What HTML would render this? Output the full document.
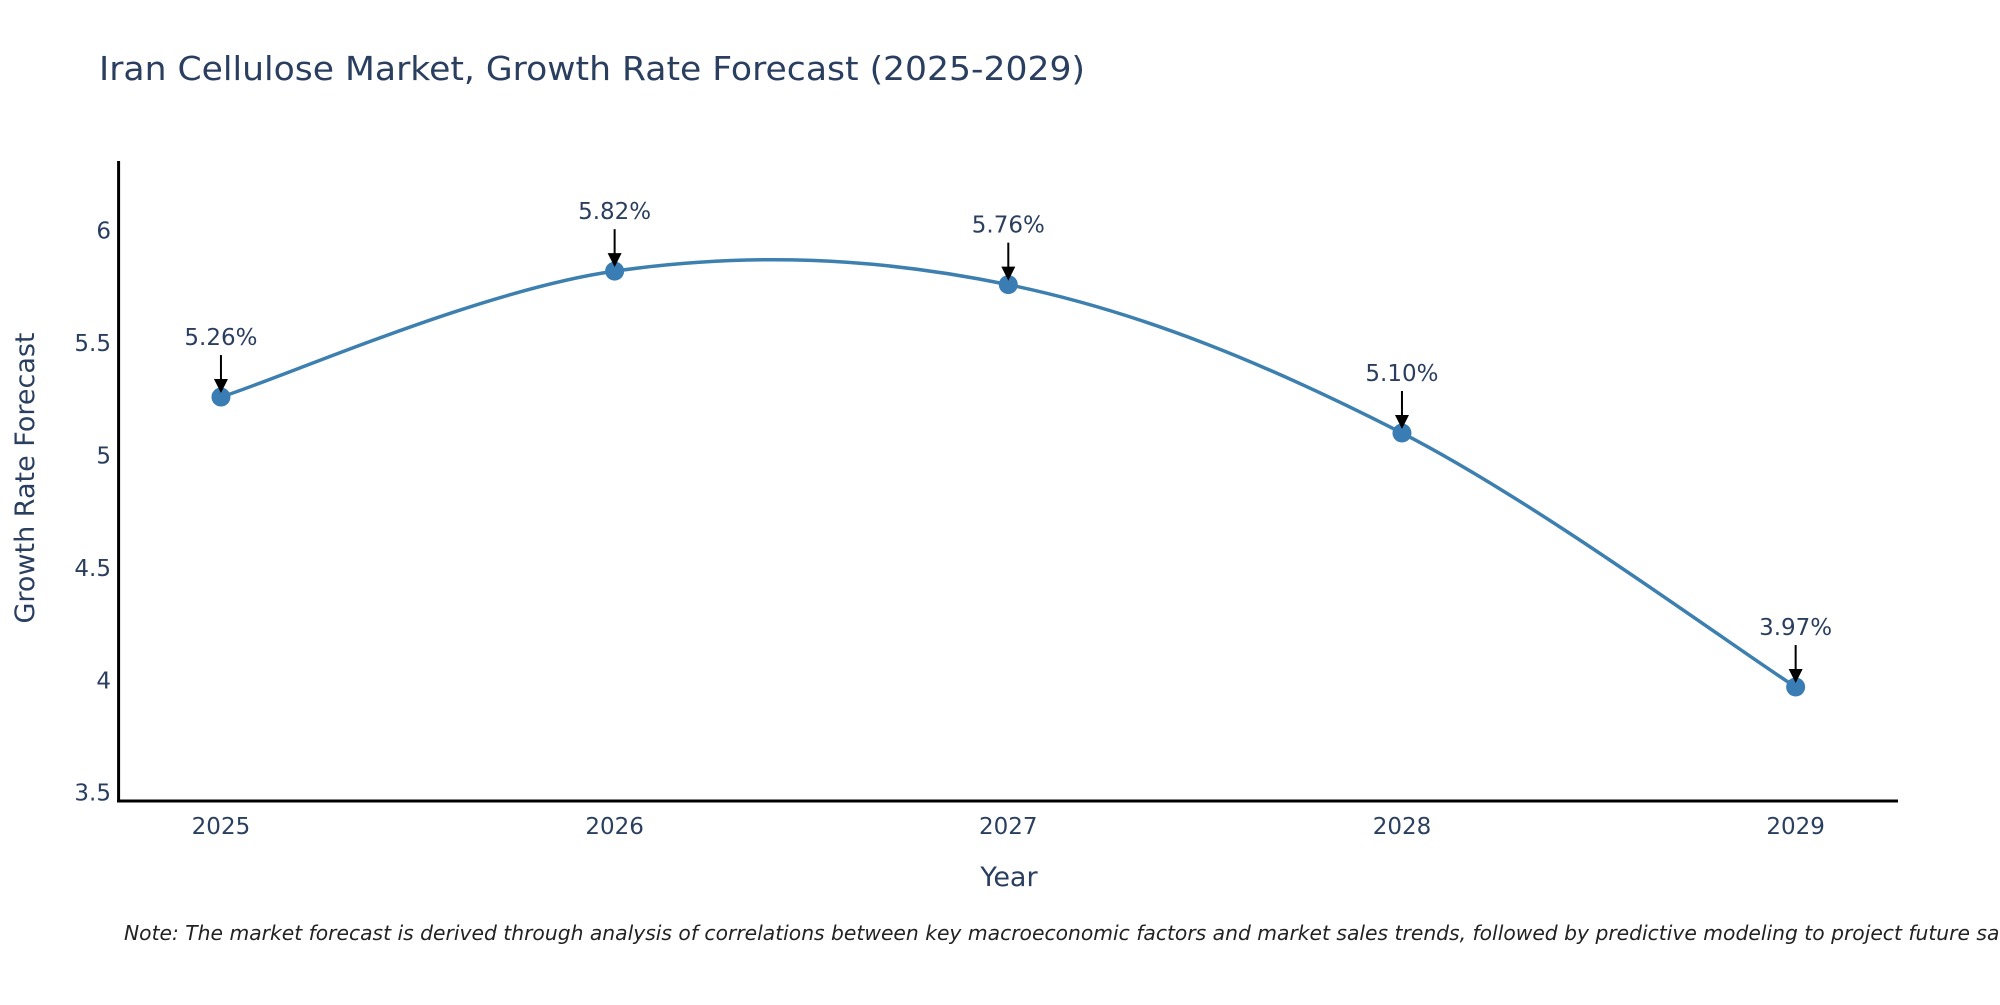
<!DOCTYPE html>
<html><head><meta charset="utf-8"><style>
html,body{margin:0;padding:0;background:#fff;}
svg text{font-family:"DejaVu Sans","Liberation Sans",sans-serif;}
</style></head><body>
<svg id="chart" width="2000" height="1000" xmlns="http://www.w3.org/2000/svg">
<text x="99" y="80" font-size="33" fill="#2a3f5f" textLength="986" lengthAdjust="spacingAndGlyphs">Iran Cellulose Market, Growth Rate Forecast (2025-2029)</text>
<g id="plot"></g>
<text x="1009" y="886" font-size="27" fill="#2a3f5f" text-anchor="middle">Year</text>
<text transform="translate(34,478) rotate(-90)" font-size="27" fill="#2a3f5f" text-anchor="middle">Growth Rate Forecast</text>
<text x="124" y="940" font-size="20.3" font-style="italic" fill="#222">Note: The market forecast is derived through analysis of correlations between key macroeconomic factors and market sales trends, followed by predictive modeling to project future sales.</text>
</svg>
<script>
const years = [2025, 2026, 2027, 2028, 2029];
const values = [5.26, 5.82, 5.76, 5.10, 3.97];
const labels = ["5.26%", "5.82%", "5.76%", "5.10%", "3.97%"];
const yTicks = [3.5, 4, 4.5, 5, 5.5, 6];
const yTickLabels = ["3.5", "4", "4.5", "5", "5.5", "6"];

const L=118.6,R=1898,T=161,B=801;
const xMin=2024.74,xMax=2029.26,yMin=3.463,yMax=6.31;
const xs=v=>L+(v-xMin)/(xMax-xMin)*(R-L);
const ys=v=>B-(v-yMin)/(yMax-yMin)*(B-T);
const NS="http://www.w3.org/2000/svg";
const g=document.getElementById('plot');
function mk(tag,attrs){const e=document.createElementNS(NS,tag);for(const k in attrs)e.setAttribute(k,attrs[k]);g.appendChild(e);return e;}

yTicks.forEach((t,i)=>{
  const e=mk('text',{x:111,y:ys(t)+8,'font-size':23,fill:'#2a3f5f','text-anchor':'end'});
  
  
  e.textContent=yTickLabels[i];
});
years.forEach(y=>{
  const e=mk('text',{x:xs(y),y:834,'font-size':23,fill:'#2a3f5f','text-anchor':'middle'});
  
  
  e.textContent=String(y);
});
const ya=mk('line',{x1:L,y1:T,x2:L,y2:B+1.5,stroke:'#000','stroke-width':3});


const xa=mk('line',{x1:L-1.5,y1:B,x2:R,y2:B,stroke:'#000','stroke-width':3});



const P=years.map((y,i)=>[xs(y),ys(values[i])]);
let d='M'+P[0][0]+','+P[0][1];
const k=0.17;
for(let i=0;i<P.length-1;i++){
  const p0=P[Math.max(0,i-1)],p1=P[i],p2=P[i+1],p3=P[Math.min(P.length-1,i+2)];
  const c1=[p1[0]+(p2[0]-p0[0])*k,p1[1]+(p2[1]-p0[1])*k];
  const c2=[p2[0]-(p3[0]-p1[0])*k,p2[1]-(p3[1]-p1[1])*k];
  d+=' C'+c1[0]+','+c1[1]+' '+c2[0]+','+c2[1]+' '+p2[0]+','+p2[1];
}
const line=mk('path',{d:d,fill:'none',stroke:'#3d80b0','stroke-width':3.5});



P.forEach((p,i)=>{
  const c=mk('circle',{cx:p[0],cy:p[1],r:9.5,fill:'#3a7db5'});
  
  
  const a=mk('line',{x1:p[0],y1:p[1]-42,x2:p[0],y2:p[1]-14,stroke:'#000','stroke-width':2});
  
  
  const h=mk('polygon',{points:(p[0]-7)+','+(p[1]-18)+' '+(p[0]+7)+','+(p[1]-18)+' '+p[0]+','+(p[1]-4),fill:'#000'});
  
  
  const t=mk('text',{x:p[0],y:p[1]-52,'font-size':23,fill:'#2a3f5f','text-anchor':'middle'});
  
  
  t.textContent=labels[i];
});
</script>
</body></html>
